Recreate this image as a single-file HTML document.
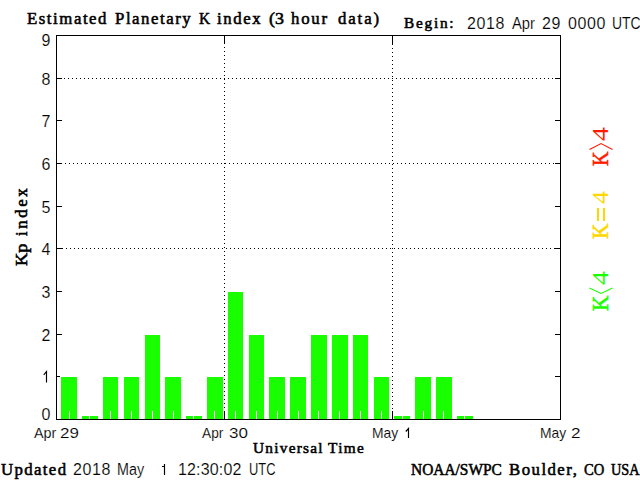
<!DOCTYPE html>
<html><head><meta charset="utf-8"><style>
html,body{margin:0;padding:0;background:#fff;width:640px;height:480px;overflow:hidden}
svg{display:block}
</style></head><body>
<svg width="640" height="480" viewBox="0 0 640 480">
<rect x="0" y="0" width="640" height="480" fill="#fff"/>
<g shape-rendering="crispEdges">
<rect x="56" y="35" width="505" height="1" fill="#000"/><rect x="56" y="419" width="505" height="1" fill="#000"/><rect x="56" y="35" width="1" height="385" fill="#000"/><rect x="560" y="35" width="1" height="385" fill="#000"/><rect x="57" y="376" width="5" height="1" fill="#000"/><rect x="555" y="376" width="5" height="1" fill="#000"/><rect x="57" y="334" width="5" height="1" fill="#000"/><rect x="555" y="334" width="5" height="1" fill="#000"/><rect x="57" y="291" width="5" height="1" fill="#000"/><rect x="555" y="291" width="5" height="1" fill="#000"/><rect x="57" y="248" width="5" height="1" fill="#000"/><rect x="555" y="248" width="5" height="1" fill="#000"/><rect x="57" y="206" width="5" height="1" fill="#000"/><rect x="555" y="206" width="5" height="1" fill="#000"/><rect x="57" y="163" width="5" height="1" fill="#000"/><rect x="555" y="163" width="5" height="1" fill="#000"/><rect x="57" y="120" width="5" height="1" fill="#000"/><rect x="555" y="120" width="5" height="1" fill="#000"/><rect x="57" y="78" width="5" height="1" fill="#000"/><rect x="555" y="78" width="5" height="1" fill="#000"/><rect x="224" y="36" width="1" height="8" fill="#000"/><rect x="224" y="411" width="1" height="8" fill="#000"/><rect x="392" y="36" width="1" height="8" fill="#000"/><rect x="392" y="411" width="1" height="8" fill="#000"/><rect x="60" y="376" width="18" height="43" fill="#fff"/><rect x="61" y="377" width="16" height="42" fill="#1aff00"/><rect x="81" y="415" width="18" height="4" fill="#fff"/><rect x="82" y="416" width="16" height="3" fill="#1aff00"/><rect x="102" y="376" width="17" height="43" fill="#fff"/><rect x="103" y="377" width="15" height="42" fill="#1aff00"/><rect x="123" y="376" width="17" height="43" fill="#fff"/><rect x="124" y="377" width="15" height="42" fill="#1aff00"/><rect x="144" y="334" width="17" height="85" fill="#fff"/><rect x="145" y="335" width="15" height="84" fill="#1aff00"/><rect x="164" y="376" width="18" height="43" fill="#fff"/><rect x="165" y="377" width="16" height="42" fill="#1aff00"/><rect x="185" y="415" width="18" height="4" fill="#fff"/><rect x="186" y="416" width="16" height="3" fill="#1aff00"/><rect x="206" y="376" width="18" height="43" fill="#fff"/><rect x="207" y="377" width="16" height="42" fill="#1aff00"/><rect x="227" y="291" width="17" height="128" fill="#fff"/><rect x="228" y="292" width="15" height="127" fill="#1aff00"/><rect x="248" y="334" width="17" height="85" fill="#fff"/><rect x="249" y="335" width="15" height="84" fill="#1aff00"/><rect x="268" y="376" width="18" height="43" fill="#fff"/><rect x="269" y="377" width="16" height="42" fill="#1aff00"/><rect x="289" y="376" width="18" height="43" fill="#fff"/><rect x="290" y="377" width="16" height="42" fill="#1aff00"/><rect x="310" y="334" width="18" height="85" fill="#fff"/><rect x="311" y="335" width="16" height="84" fill="#1aff00"/><rect x="331" y="334" width="18" height="85" fill="#fff"/><rect x="332" y="335" width="16" height="84" fill="#1aff00"/><rect x="352" y="334" width="17" height="85" fill="#fff"/><rect x="353" y="335" width="15" height="84" fill="#1aff00"/><rect x="373" y="376" width="17" height="43" fill="#fff"/><rect x="374" y="377" width="15" height="42" fill="#1aff00"/><rect x="393" y="415" width="18" height="4" fill="#fff"/><rect x="394" y="416" width="16" height="3" fill="#1aff00"/><rect x="414" y="376" width="18" height="43" fill="#fff"/><rect x="415" y="377" width="16" height="42" fill="#1aff00"/><rect x="435" y="376" width="18" height="43" fill="#fff"/><rect x="436" y="377" width="16" height="42" fill="#1aff00"/><rect x="456" y="415" width="18" height="4" fill="#fff"/><rect x="457" y="416" width="16" height="3" fill="#1aff00"/><rect x="69" y="411" width="1" height="8" fill="#fff"/><rect x="89" y="411" width="1" height="8" fill="#fff"/><rect x="110" y="411" width="1" height="8" fill="#fff"/><rect x="131" y="411" width="1" height="8" fill="#fff"/><rect x="152" y="411" width="1" height="8" fill="#fff"/><rect x="173" y="411" width="1" height="8" fill="#fff"/><rect x="193" y="411" width="1" height="8" fill="#fff"/><rect x="214" y="411" width="1" height="8" fill="#fff"/><rect x="235" y="411" width="1" height="8" fill="#fff"/><rect x="256" y="411" width="1" height="8" fill="#fff"/><rect x="277" y="411" width="1" height="8" fill="#fff"/><rect x="298" y="411" width="1" height="8" fill="#fff"/><rect x="318" y="411" width="1" height="8" fill="#fff"/><rect x="339" y="411" width="1" height="8" fill="#fff"/><rect x="360" y="411" width="1" height="8" fill="#fff"/><rect x="381" y="411" width="1" height="8" fill="#fff"/><rect x="402" y="411" width="1" height="8" fill="#fff"/><rect x="423" y="411" width="1" height="8" fill="#fff"/><rect x="443" y="411" width="1" height="8" fill="#fff"/><rect x="464" y="411" width="1" height="8" fill="#fff"/>
<path d="M58 248h1v1h-1zM62 248h1v1h-1zM66 248h1v1h-1zM70 248h1v1h-1zM74 248h1v1h-1zM78 248h1v1h-1zM82 248h1v1h-1zM86 248h1v1h-1zM90 248h1v1h-1zM94 248h1v1h-1zM98 248h1v1h-1zM102 248h1v1h-1zM106 248h1v1h-1zM110 248h1v1h-1zM114 248h1v1h-1zM118 248h1v1h-1zM122 248h1v1h-1zM126 248h1v1h-1zM130 248h1v1h-1zM134 248h1v1h-1zM138 248h1v1h-1zM142 248h1v1h-1zM146 248h1v1h-1zM150 248h1v1h-1zM154 248h1v1h-1zM158 248h1v1h-1zM162 248h1v1h-1zM166 248h1v1h-1zM170 248h1v1h-1zM174 248h1v1h-1zM178 248h1v1h-1zM182 248h1v1h-1zM186 248h1v1h-1zM190 248h1v1h-1zM194 248h1v1h-1zM198 248h1v1h-1zM202 248h1v1h-1zM206 248h1v1h-1zM210 248h1v1h-1zM214 248h1v1h-1zM218 248h1v1h-1zM222 248h1v1h-1zM226 248h1v1h-1zM230 248h1v1h-1zM234 248h1v1h-1zM238 248h1v1h-1zM242 248h1v1h-1zM246 248h1v1h-1zM250 248h1v1h-1zM254 248h1v1h-1zM258 248h1v1h-1zM262 248h1v1h-1zM266 248h1v1h-1zM270 248h1v1h-1zM274 248h1v1h-1zM278 248h1v1h-1zM282 248h1v1h-1zM286 248h1v1h-1zM290 248h1v1h-1zM294 248h1v1h-1zM298 248h1v1h-1zM302 248h1v1h-1zM306 248h1v1h-1zM310 248h1v1h-1zM314 248h1v1h-1zM318 248h1v1h-1zM322 248h1v1h-1zM326 248h1v1h-1zM330 248h1v1h-1zM334 248h1v1h-1zM338 248h1v1h-1zM342 248h1v1h-1zM346 248h1v1h-1zM350 248h1v1h-1zM354 248h1v1h-1zM358 248h1v1h-1zM362 248h1v1h-1zM366 248h1v1h-1zM370 248h1v1h-1zM374 248h1v1h-1zM378 248h1v1h-1zM382 248h1v1h-1zM386 248h1v1h-1zM390 248h1v1h-1zM394 248h1v1h-1zM398 248h1v1h-1zM402 248h1v1h-1zM406 248h1v1h-1zM410 248h1v1h-1zM414 248h1v1h-1zM418 248h1v1h-1zM422 248h1v1h-1zM426 248h1v1h-1zM430 248h1v1h-1zM434 248h1v1h-1zM438 248h1v1h-1zM442 248h1v1h-1zM446 248h1v1h-1zM450 248h1v1h-1zM454 248h1v1h-1zM458 248h1v1h-1zM462 248h1v1h-1zM466 248h1v1h-1zM470 248h1v1h-1zM474 248h1v1h-1zM478 248h1v1h-1zM482 248h1v1h-1zM486 248h1v1h-1zM490 248h1v1h-1zM494 248h1v1h-1zM498 248h1v1h-1zM502 248h1v1h-1zM506 248h1v1h-1zM510 248h1v1h-1zM514 248h1v1h-1zM518 248h1v1h-1zM522 248h1v1h-1zM526 248h1v1h-1zM530 248h1v1h-1zM534 248h1v1h-1zM538 248h1v1h-1zM542 248h1v1h-1zM546 248h1v1h-1zM550 248h1v1h-1zM554 248h1v1h-1zM558 248h1v1h-1zM57 163h1v1h-1zM61 163h1v1h-1zM65 163h1v1h-1zM69 163h1v1h-1zM73 163h1v1h-1zM77 163h1v1h-1zM81 163h1v1h-1zM85 163h1v1h-1zM89 163h1v1h-1zM93 163h1v1h-1zM97 163h1v1h-1zM101 163h1v1h-1zM105 163h1v1h-1zM109 163h1v1h-1zM113 163h1v1h-1zM117 163h1v1h-1zM121 163h1v1h-1zM125 163h1v1h-1zM129 163h1v1h-1zM133 163h1v1h-1zM137 163h1v1h-1zM141 163h1v1h-1zM145 163h1v1h-1zM149 163h1v1h-1zM153 163h1v1h-1zM157 163h1v1h-1zM161 163h1v1h-1zM165 163h1v1h-1zM169 163h1v1h-1zM173 163h1v1h-1zM177 163h1v1h-1zM181 163h1v1h-1zM185 163h1v1h-1zM189 163h1v1h-1zM193 163h1v1h-1zM197 163h1v1h-1zM201 163h1v1h-1zM205 163h1v1h-1zM209 163h1v1h-1zM213 163h1v1h-1zM217 163h1v1h-1zM221 163h1v1h-1zM225 163h1v1h-1zM229 163h1v1h-1zM233 163h1v1h-1zM237 163h1v1h-1zM241 163h1v1h-1zM245 163h1v1h-1zM249 163h1v1h-1zM253 163h1v1h-1zM257 163h1v1h-1zM261 163h1v1h-1zM265 163h1v1h-1zM269 163h1v1h-1zM273 163h1v1h-1zM277 163h1v1h-1zM281 163h1v1h-1zM285 163h1v1h-1zM289 163h1v1h-1zM293 163h1v1h-1zM297 163h1v1h-1zM301 163h1v1h-1zM305 163h1v1h-1zM309 163h1v1h-1zM313 163h1v1h-1zM317 163h1v1h-1zM321 163h1v1h-1zM325 163h1v1h-1zM329 163h1v1h-1zM333 163h1v1h-1zM337 163h1v1h-1zM341 163h1v1h-1zM345 163h1v1h-1zM349 163h1v1h-1zM353 163h1v1h-1zM357 163h1v1h-1zM361 163h1v1h-1zM365 163h1v1h-1zM369 163h1v1h-1zM373 163h1v1h-1zM377 163h1v1h-1zM381 163h1v1h-1zM385 163h1v1h-1zM389 163h1v1h-1zM393 163h1v1h-1zM397 163h1v1h-1zM401 163h1v1h-1zM405 163h1v1h-1zM409 163h1v1h-1zM413 163h1v1h-1zM417 163h1v1h-1zM421 163h1v1h-1zM425 163h1v1h-1zM429 163h1v1h-1zM433 163h1v1h-1zM437 163h1v1h-1zM441 163h1v1h-1zM445 163h1v1h-1zM449 163h1v1h-1zM453 163h1v1h-1zM457 163h1v1h-1zM461 163h1v1h-1zM465 163h1v1h-1zM469 163h1v1h-1zM473 163h1v1h-1zM477 163h1v1h-1zM481 163h1v1h-1zM485 163h1v1h-1zM489 163h1v1h-1zM493 163h1v1h-1zM497 163h1v1h-1zM501 163h1v1h-1zM505 163h1v1h-1zM509 163h1v1h-1zM513 163h1v1h-1zM517 163h1v1h-1zM521 163h1v1h-1zM525 163h1v1h-1zM529 163h1v1h-1zM533 163h1v1h-1zM537 163h1v1h-1zM541 163h1v1h-1zM545 163h1v1h-1zM549 163h1v1h-1zM553 163h1v1h-1zM557 163h1v1h-1zM60 78h1v1h-1zM64 78h1v1h-1zM68 78h1v1h-1zM72 78h1v1h-1zM76 78h1v1h-1zM80 78h1v1h-1zM84 78h1v1h-1zM88 78h1v1h-1zM92 78h1v1h-1zM96 78h1v1h-1zM100 78h1v1h-1zM104 78h1v1h-1zM108 78h1v1h-1zM112 78h1v1h-1zM116 78h1v1h-1zM120 78h1v1h-1zM124 78h1v1h-1zM128 78h1v1h-1zM132 78h1v1h-1zM136 78h1v1h-1zM140 78h1v1h-1zM144 78h1v1h-1zM148 78h1v1h-1zM152 78h1v1h-1zM156 78h1v1h-1zM160 78h1v1h-1zM164 78h1v1h-1zM168 78h1v1h-1zM172 78h1v1h-1zM176 78h1v1h-1zM180 78h1v1h-1zM184 78h1v1h-1zM188 78h1v1h-1zM192 78h1v1h-1zM196 78h1v1h-1zM200 78h1v1h-1zM204 78h1v1h-1zM208 78h1v1h-1zM212 78h1v1h-1zM216 78h1v1h-1zM220 78h1v1h-1zM224 78h1v1h-1zM228 78h1v1h-1zM232 78h1v1h-1zM236 78h1v1h-1zM240 78h1v1h-1zM244 78h1v1h-1zM248 78h1v1h-1zM252 78h1v1h-1zM256 78h1v1h-1zM260 78h1v1h-1zM264 78h1v1h-1zM268 78h1v1h-1zM272 78h1v1h-1zM276 78h1v1h-1zM280 78h1v1h-1zM284 78h1v1h-1zM288 78h1v1h-1zM292 78h1v1h-1zM296 78h1v1h-1zM300 78h1v1h-1zM304 78h1v1h-1zM308 78h1v1h-1zM312 78h1v1h-1zM316 78h1v1h-1zM320 78h1v1h-1zM324 78h1v1h-1zM328 78h1v1h-1zM332 78h1v1h-1zM336 78h1v1h-1zM340 78h1v1h-1zM344 78h1v1h-1zM348 78h1v1h-1zM352 78h1v1h-1zM356 78h1v1h-1zM360 78h1v1h-1zM364 78h1v1h-1zM368 78h1v1h-1zM372 78h1v1h-1zM376 78h1v1h-1zM380 78h1v1h-1zM384 78h1v1h-1zM388 78h1v1h-1zM392 78h1v1h-1zM396 78h1v1h-1zM400 78h1v1h-1zM404 78h1v1h-1zM408 78h1v1h-1zM412 78h1v1h-1zM416 78h1v1h-1zM420 78h1v1h-1zM424 78h1v1h-1zM428 78h1v1h-1zM432 78h1v1h-1zM436 78h1v1h-1zM440 78h1v1h-1zM444 78h1v1h-1zM448 78h1v1h-1zM452 78h1v1h-1zM456 78h1v1h-1zM460 78h1v1h-1zM464 78h1v1h-1zM468 78h1v1h-1zM472 78h1v1h-1zM476 78h1v1h-1zM480 78h1v1h-1zM484 78h1v1h-1zM488 78h1v1h-1zM492 78h1v1h-1zM496 78h1v1h-1zM500 78h1v1h-1zM504 78h1v1h-1zM508 78h1v1h-1zM512 78h1v1h-1zM516 78h1v1h-1zM520 78h1v1h-1zM524 78h1v1h-1zM528 78h1v1h-1zM532 78h1v1h-1zM536 78h1v1h-1zM540 78h1v1h-1zM544 78h1v1h-1zM548 78h1v1h-1zM552 78h1v1h-1zM556 78h1v1h-1zM224 39h1v1h-1zM224 43h1v1h-1zM224 47h1v1h-1zM224 51h1v1h-1zM224 55h1v1h-1zM224 59h1v1h-1zM224 63h1v1h-1zM224 67h1v1h-1zM224 71h1v1h-1zM224 75h1v1h-1zM224 79h1v1h-1zM224 83h1v1h-1zM224 87h1v1h-1zM224 91h1v1h-1zM224 95h1v1h-1zM224 99h1v1h-1zM224 103h1v1h-1zM224 107h1v1h-1zM224 111h1v1h-1zM224 115h1v1h-1zM224 119h1v1h-1zM224 123h1v1h-1zM224 127h1v1h-1zM224 131h1v1h-1zM224 135h1v1h-1zM224 139h1v1h-1zM224 143h1v1h-1zM224 147h1v1h-1zM224 151h1v1h-1zM224 155h1v1h-1zM224 159h1v1h-1zM224 163h1v1h-1zM224 167h1v1h-1zM224 171h1v1h-1zM224 175h1v1h-1zM224 179h1v1h-1zM224 183h1v1h-1zM224 187h1v1h-1zM224 191h1v1h-1zM224 195h1v1h-1zM224 199h1v1h-1zM224 203h1v1h-1zM224 207h1v1h-1zM224 211h1v1h-1zM224 215h1v1h-1zM224 219h1v1h-1zM224 223h1v1h-1zM224 227h1v1h-1zM224 231h1v1h-1zM224 235h1v1h-1zM224 239h1v1h-1zM224 243h1v1h-1zM224 247h1v1h-1zM224 251h1v1h-1zM224 255h1v1h-1zM224 259h1v1h-1zM224 263h1v1h-1zM224 267h1v1h-1zM224 271h1v1h-1zM224 275h1v1h-1zM224 279h1v1h-1zM224 283h1v1h-1zM224 287h1v1h-1zM224 291h1v1h-1zM224 295h1v1h-1zM224 299h1v1h-1zM224 303h1v1h-1zM224 307h1v1h-1zM224 311h1v1h-1zM224 315h1v1h-1zM224 319h1v1h-1zM224 323h1v1h-1zM224 327h1v1h-1zM224 331h1v1h-1zM224 335h1v1h-1zM224 339h1v1h-1zM224 343h1v1h-1zM224 347h1v1h-1zM224 351h1v1h-1zM224 355h1v1h-1zM224 359h1v1h-1zM224 363h1v1h-1zM224 367h1v1h-1zM224 371h1v1h-1zM224 375h1v1h-1zM224 379h1v1h-1zM224 383h1v1h-1zM224 387h1v1h-1zM224 391h1v1h-1zM224 395h1v1h-1zM224 399h1v1h-1zM224 403h1v1h-1zM224 407h1v1h-1zM224 411h1v1h-1zM224 415h1v1h-1zM392 36h1v1h-1zM392 40h1v1h-1zM392 44h1v1h-1zM392 48h1v1h-1zM392 52h1v1h-1zM392 56h1v1h-1zM392 60h1v1h-1zM392 64h1v1h-1zM392 68h1v1h-1zM392 72h1v1h-1zM392 76h1v1h-1zM392 80h1v1h-1zM392 84h1v1h-1zM392 88h1v1h-1zM392 92h1v1h-1zM392 96h1v1h-1zM392 100h1v1h-1zM392 104h1v1h-1zM392 108h1v1h-1zM392 112h1v1h-1zM392 116h1v1h-1zM392 120h1v1h-1zM392 124h1v1h-1zM392 128h1v1h-1zM392 132h1v1h-1zM392 136h1v1h-1zM392 140h1v1h-1zM392 144h1v1h-1zM392 148h1v1h-1zM392 152h1v1h-1zM392 156h1v1h-1zM392 160h1v1h-1zM392 164h1v1h-1zM392 168h1v1h-1zM392 172h1v1h-1zM392 176h1v1h-1zM392 180h1v1h-1zM392 184h1v1h-1zM392 188h1v1h-1zM392 192h1v1h-1zM392 196h1v1h-1zM392 200h1v1h-1zM392 204h1v1h-1zM392 208h1v1h-1zM392 212h1v1h-1zM392 216h1v1h-1zM392 220h1v1h-1zM392 224h1v1h-1zM392 228h1v1h-1zM392 232h1v1h-1zM392 236h1v1h-1zM392 240h1v1h-1zM392 244h1v1h-1zM392 248h1v1h-1zM392 252h1v1h-1zM392 256h1v1h-1zM392 260h1v1h-1zM392 264h1v1h-1zM392 268h1v1h-1zM392 272h1v1h-1zM392 276h1v1h-1zM392 280h1v1h-1zM392 284h1v1h-1zM392 288h1v1h-1zM392 292h1v1h-1zM392 296h1v1h-1zM392 300h1v1h-1zM392 304h1v1h-1zM392 308h1v1h-1zM392 312h1v1h-1zM392 316h1v1h-1zM392 320h1v1h-1zM392 324h1v1h-1zM392 328h1v1h-1zM392 332h1v1h-1zM392 336h1v1h-1zM392 340h1v1h-1zM392 344h1v1h-1zM392 348h1v1h-1zM392 352h1v1h-1zM392 356h1v1h-1zM392 360h1v1h-1zM392 364h1v1h-1zM392 368h1v1h-1zM392 372h1v1h-1zM392 376h1v1h-1zM392 380h1v1h-1zM392 384h1v1h-1zM392 388h1v1h-1zM392 392h1v1h-1zM392 396h1v1h-1zM392 400h1v1h-1zM392 404h1v1h-1zM392 408h1v1h-1zM392 412h1v1h-1zM392 416h1v1h-1z" fill="#000"/>
</g>
<g>
<text x="27" y="24" font-family='"Liberation Serif", serif' stroke="#000" stroke-width="0.55" font-size="16.8" textLength="79.48" lengthAdjust="spacing">Estimated</text>
<text x="115" y="24" font-family='"Liberation Serif", serif' stroke="#000" stroke-width="0.55" font-size="16.8" textLength="75.75" lengthAdjust="spacing">Planetary</text>
<text x="199" y="24" font-family='"Liberation Serif", serif' stroke="#000" stroke-width="0.55" font-size="16.8" textLength="11.11" lengthAdjust="spacingAndGlyphs">K</text>
<text x="217" y="24" font-family='"Liberation Serif", serif' stroke="#000" stroke-width="0.55" font-size="16.8" textLength="43.55" lengthAdjust="spacing">index</text>
<text x="269" y="24" font-family='"Liberation Serif", serif' stroke="#000" stroke-width="0.55" font-size="16.8" textLength="14.98" lengthAdjust="spacingAndGlyphs">(3</text>
<text x="291" y="24" font-family='"Liberation Serif", serif' stroke="#000" stroke-width="0.55" font-size="16.8" textLength="36.1" lengthAdjust="spacing">hour</text>
<text x="338" y="24" font-family='"Liberation Serif", serif' stroke="#000" stroke-width="0.55" font-size="16.8" textLength="41.05" lengthAdjust="spacing">data)</text>
<text x="404" y="28" font-family='"Liberation Serif", serif' stroke="#000" stroke-width="0.55" font-size="15.3" textLength="49.56" lengthAdjust="spacing">Begin:</text>
<text x="467" y="29" font-family='"Liberation Sans", sans-serif' stroke="#fff" stroke-width="0.15" font-size="16" textLength="37.33" lengthAdjust="spacing">2018</text>
<text x="512" y="29" font-family='"Liberation Sans", sans-serif' stroke="#fff" stroke-width="0.15" font-size="16" textLength="22.91" lengthAdjust="spacingAndGlyphs">Apr</text>
<text x="542" y="29" font-family='"Liberation Sans", sans-serif' stroke="#fff" stroke-width="0.15" font-size="16" textLength="18.4" lengthAdjust="spacing">29</text>
<text x="568" y="29" font-family='"Liberation Sans", sans-serif' stroke="#fff" stroke-width="0.15" font-size="16" textLength="37.33" lengthAdjust="spacing">0000</text>
<text x="612" y="29" font-family='"Liberation Sans", sans-serif' stroke="#fff" stroke-width="0.15" font-size="16" textLength="28.65" lengthAdjust="spacingAndGlyphs">UTC</text>
<text x="34" y="438" font-family='"Liberation Sans", sans-serif' stroke="#fff" stroke-width="0.15" font-size="15" textLength="22.33" lengthAdjust="spacingAndGlyphs">Apr</text>
<text x="60" y="438" font-family='"Liberation Sans", sans-serif' stroke="#fff" stroke-width="0.15" font-size="15" textLength="18.91" lengthAdjust="spacingAndGlyphs">29</text>
<text x="202" y="438" font-family='"Liberation Sans", sans-serif' stroke="#fff" stroke-width="0.15" font-size="15" textLength="21.31" lengthAdjust="spacingAndGlyphs">Apr</text>
<text x="229" y="438" font-family='"Liberation Sans", sans-serif' stroke="#fff" stroke-width="0.15" font-size="15" textLength="18.91" lengthAdjust="spacingAndGlyphs">30</text>
<text x="372" y="438" font-family='"Liberation Sans", sans-serif' stroke="#fff" stroke-width="0.15" font-size="15" textLength="26.24" lengthAdjust="spacingAndGlyphs">May</text>
<text x="540" y="438" font-family='"Liberation Sans", sans-serif' stroke="#fff" stroke-width="0.15" font-size="15" textLength="26.24" lengthAdjust="spacingAndGlyphs">May</text>
<text x="571" y="438" font-family='"Liberation Sans", sans-serif' stroke="#fff" stroke-width="0.15" font-size="15" textLength="9.54" lengthAdjust="spacingAndGlyphs">2</text>
<text x="253" y="453" font-family='"Liberation Serif", serif' stroke="#000" stroke-width="0.55" font-size="15.3" textLength="69.61" lengthAdjust="spacing">Universal</text>
<text x="328" y="453" font-family='"Liberation Serif", serif' stroke="#000" stroke-width="0.55" font-size="15.3" textLength="35.75" lengthAdjust="spacing">Time</text>
<text x="1" y="475" font-family='"Liberation Serif", serif' stroke="#000" stroke-width="0.55" font-size="16.8" textLength="65.03" lengthAdjust="spacing">Updated</text>
<text x="73" y="475" font-family='"Liberation Sans", sans-serif' stroke="#fff" stroke-width="0.15" font-size="16" textLength="37.33" lengthAdjust="spacing">2018</text>
<text x="117" y="475" font-family='"Liberation Sans", sans-serif' stroke="#fff" stroke-width="0.15" font-size="16" textLength="27.11" lengthAdjust="spacingAndGlyphs">May</text>
<text x="178" y="475" font-family='"Liberation Sans", sans-serif' stroke="#fff" stroke-width="0.15" font-size="16" textLength="63.42" lengthAdjust="spacing">12:30:02</text>
<text x="249" y="475" font-family='"Liberation Sans", sans-serif' stroke="#fff" stroke-width="0.15" font-size="16" textLength="26.52" lengthAdjust="spacingAndGlyphs">UTC</text>
<text x="411" y="475" font-family='"Liberation Serif", serif' stroke="#000" stroke-width="0.55" font-size="16.8" textLength="90.86" lengthAdjust="spacingAndGlyphs">NOAA/SWPC</text>
<text x="509" y="475" font-family='"Liberation Serif", serif' stroke="#000" stroke-width="0.55" font-size="16.8" textLength="67.88" lengthAdjust="spacing">Boulder,</text>
<text x="584" y="475" font-family='"Liberation Serif", serif' stroke="#000" stroke-width="0.55" font-size="16.8" textLength="20.27" lengthAdjust="spacingAndGlyphs">CO</text>
<text x="611" y="475" font-family='"Liberation Serif", serif' stroke="#000" stroke-width="0.55" font-size="16.8" textLength="28.64" lengthAdjust="spacingAndGlyphs">USA</text>
<text x="50.5" y="420" font-family='"Liberation Sans", sans-serif' font-size="16" text-anchor="end" stroke="#fff" stroke-width="0.15">0</text>
<path d="M43.8 374.8L46.5 371.5V382.5" fill="none" stroke="#000" stroke-width="1.15"/>
<text x="50.5" y="341" font-family='"Liberation Sans", sans-serif' font-size="16" text-anchor="end" stroke="#fff" stroke-width="0.15">2</text>
<text x="50.5" y="298" font-family='"Liberation Sans", sans-serif' font-size="16" text-anchor="end" stroke="#fff" stroke-width="0.15">3</text>
<text x="50.5" y="255" font-family='"Liberation Sans", sans-serif' font-size="16" text-anchor="end" stroke="#fff" stroke-width="0.15">4</text>
<text x="50.5" y="213" font-family='"Liberation Sans", sans-serif' font-size="16" text-anchor="end" stroke="#fff" stroke-width="0.15">5</text>
<text x="50.5" y="170" font-family='"Liberation Sans", sans-serif' font-size="16" text-anchor="end" stroke="#fff" stroke-width="0.15">6</text>
<text x="50.5" y="127" font-family='"Liberation Sans", sans-serif' font-size="16" text-anchor="end" stroke="#fff" stroke-width="0.15">7</text>
<text x="50.5" y="85" font-family='"Liberation Sans", sans-serif' font-size="16" text-anchor="end" stroke="#fff" stroke-width="0.15">8</text>
<text x="50.5" y="46" font-family='"Liberation Sans", sans-serif' font-size="16" text-anchor="end" stroke="#fff" stroke-width="0.15">9</text>
<path d="M405.8 431.5L408.5 428.5V438" fill="none" stroke="#000" stroke-width="1.15"/>
<path d="M162 466.5H164.5M164.5 464V475" fill="none" stroke="#000" stroke-width="1.15"/>
<text transform="translate(27,266) rotate(-90)" x="0" y="0" font-family='"Liberation Serif", serif' stroke="#000" stroke-width="0.55" font-size="16.8" textLength="22.57" lengthAdjust="spacingAndGlyphs" fill="#000">Kp</text>
<text transform="translate(27,236) rotate(-90)" x="0" y="0" font-family='"Liberation Serif", serif' stroke="#000" stroke-width="0.55" font-size="16.8" textLength="47.67" lengthAdjust="spacing" fill="#000">index</text>
<text transform="translate(608,166) rotate(-90)" x="0" y="0" font-family='"Liberation Serif", serif' stroke="#ff1a00" stroke-width="0.55" font-size="24" textLength="14.45" lengthAdjust="spacingAndGlyphs" fill="#ff1a00">K</text>
<text transform="translate(608,141) rotate(-90)" x="0" y="0" font-family='"Liberation Serif", serif'  font-size="24" textLength="14.0" lengthAdjust="spacingAndGlyphs" fill="#ff1a00">4</text>
<path d="M589.5 149.5L601 143.5L612.5 149.5" fill="none" stroke="#ff1a00" stroke-width="1.1"/>
<text transform="translate(608,239) rotate(-90)" x="0" y="0" font-family='"Liberation Serif", serif' stroke="#ffd700" stroke-width="0.55" font-size="24" textLength="15.42" lengthAdjust="spacingAndGlyphs" fill="#ffd700">K</text>
<text transform="translate(608,204) rotate(-90)" x="0" y="0" font-family='"Liberation Serif", serif'  font-size="24" textLength="13.0" lengthAdjust="spacingAndGlyphs" fill="#ffd700">4</text>
<rect x="597" y="208" width="2" height="13" fill="#ffd700"/><rect x="603" y="208" width="2" height="13" fill="#ffd700"/>
<text transform="translate(608,311) rotate(-90)" x="0" y="0" font-family='"Liberation Serif", serif' stroke="#1aff00" stroke-width="0.55" font-size="24" textLength="15.42" lengthAdjust="spacingAndGlyphs" fill="#1aff00">K</text>
<text transform="translate(608,285) rotate(-90)" x="0" y="0" font-family='"Liberation Serif", serif'  font-size="24" textLength="14.0" lengthAdjust="spacingAndGlyphs" fill="#1aff00">4</text>
<path d="M589.5 288L601 293.5L612.5 288" fill="none" stroke="#1aff00" stroke-width="1.1"/>
</g>
</svg>
</body></html>
